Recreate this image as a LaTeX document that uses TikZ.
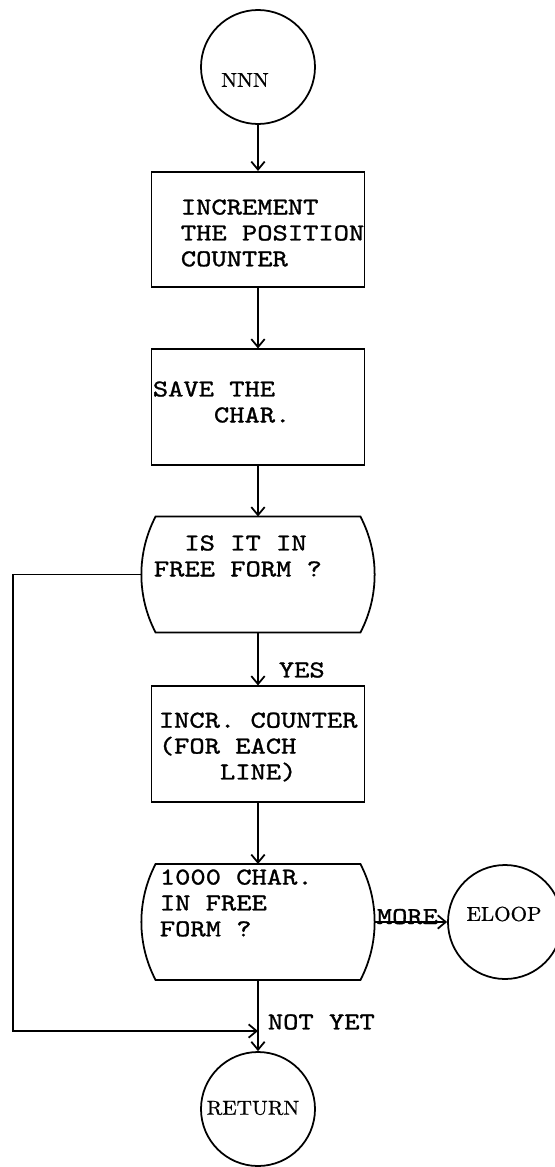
\documentclass[tikz,border=0pt]{standalone}
\usepackage{fontspec}
\usetikzlibrary{arrows.meta}
\newfontfamily\typer{lmmono10-regular}[Extension=.otf,FakeStretch=1.2,FakeBold=1.2]
\newfontfamily\serl{lmroman10-regular}[Extension=.otf,FakeStretch=1.05,FakeBold=0.8]
\newcommand{\tw}{\fontsize{20.7}{22.1}\selectfont\typer}
\newcommand{\sr}{\fontsize{17.2}{20}\selectfont\serl}
\tikzset{
	box/.style={draw,rectangle,minimum width=6.39cm,minimum height=3.46cm,inner sep=0pt},
	term/.style={draw,circle,minimum size=3.42cm,inner sep=0pt},
	dec/.style={rectangle,minimum width=6.93cm,minimum height=3.43cm,inner sep=0pt},
	txt/.style={anchor=west,inner sep=0pt,align=left,font=\tw},
	lbl/.style={inner sep=0pt,font=\sr},
	flow/.style={-{Straight Barb[length=2.4mm,width=4mm]}}
}

\begin{document}
\begin{tikzpicture}[line width=1.5pt]
	\pgfmathsetmacro{\ul}{0.03};
	\useasboundingbox (0,0) rectangle (554*\ul,-1167*\ul);
	% main column
	\node[term] (nnn) at (258*\ul,-67*\ul) {};
	\node[lbl] (nnnt) at (245*\ul,-80*\ul) {NNN};
	\node[box] (b1) at (258*\ul,-229.5*\ul) {};
	\node[txt] (b1t) at (180*\ul,-233*\ul) {INCREMENT\\THE POSITION\\COUNTER};
	\node[box] (b2) at (258*\ul,-407*\ul) {};
	\node[txt] (b2t) at (152*\ul,-402*\ul) {SAVE THE\\\phantom{SAVE}CHAR.};
	\node[dec] (d1) at (258*\ul,-574.5*\ul) {};
	\node[txt] (d1t) at (153*\ul,-556*\ul) {\phantom{FR}IS IT IN\\FREE FORM ?};
	\node[box] (b3) at (258*\ul,-744*\ul) {};
	\node[txt] (b3t) at (158*\ul,-747*\ul) {INCR. COUNTER\\(FOR EACH\\\phantom{INCR}LINE)};
	\node[dec] (d2) at (258*\ul,-922*\ul) {};
	\node[txt] (d2t) at (159*\ul,-903*\ul) {1000 CHAR.\\IN FREE\\FORM ?};
	\node[term] (ret) at (258*\ul,-1109*\ul) {};
	\node[lbl] (rett) at (253*\ul,-1108*\ul) {RETURN};
	% side exit
	\node[term] (eloop) at (505*\ul,-922*\ul) {};
	\node[lbl] (eloopt) at (504*\ul,-914*\ul) {ELOOP};
	% decision outlines
	\draw ([xshift=0.42cm]d1.north west) -- ([xshift=-0.42cm]d1.north east) .. controls ([shift={(0.15cm,0.65cm)}]d1.east) and ([shift={(0.15cm,-0.65cm)}]d1.east) .. ([xshift=-0.42cm]d1.south east) -- ([xshift=0.42cm]d1.south west) .. controls ([shift={(-0.15cm,-0.65cm)}]d1.west) and ([shift={(-0.15cm,0.65cm)}]d1.west) .. cycle;
	\draw ([xshift=0.42cm]d2.north west) -- ([xshift=-0.42cm]d2.north east) .. controls ([shift={(0.15cm,0.65cm)}]d2.east) and ([shift={(0.15cm,-0.65cm)}]d2.east) .. ([xshift=-0.42cm]d2.south east) -- ([xshift=0.42cm]d2.south west) .. controls ([shift={(-0.15cm,-0.65cm)}]d2.west) and ([shift={(-0.15cm,0.65cm)}]d2.west) .. cycle;
	% connectors
	\coordinate (lft) at (13*\ul,-1031*\ul);
	\coordinate (join) at (258*\ul,-1031*\ul);
	\draw[flow] (nnn) -- (b1);
	\draw[flow] (b1) -- (b2);
	\draw[flow] (b2) -- (d1);
	\draw[flow] (d1) -- (b3);
	\draw[flow] (b3) -- (d2);
	\draw[flow] (d2) -- (ret);
	\draw[flow] (d2.east) -- (eloop);
	\draw[flow] (d1.west) -| (lft) -- (join);
	\node[txt] (yes) at (278*\ul,-670*\ul) {YES};
	\node[txt,anchor=base west] (more) at (376*\ul,-924*\ul) {MORE};
	\node[txt] (notyet) at (267*\ul,-1022*\ul) {NOT YET};
\end{tikzpicture}
\end{document}
